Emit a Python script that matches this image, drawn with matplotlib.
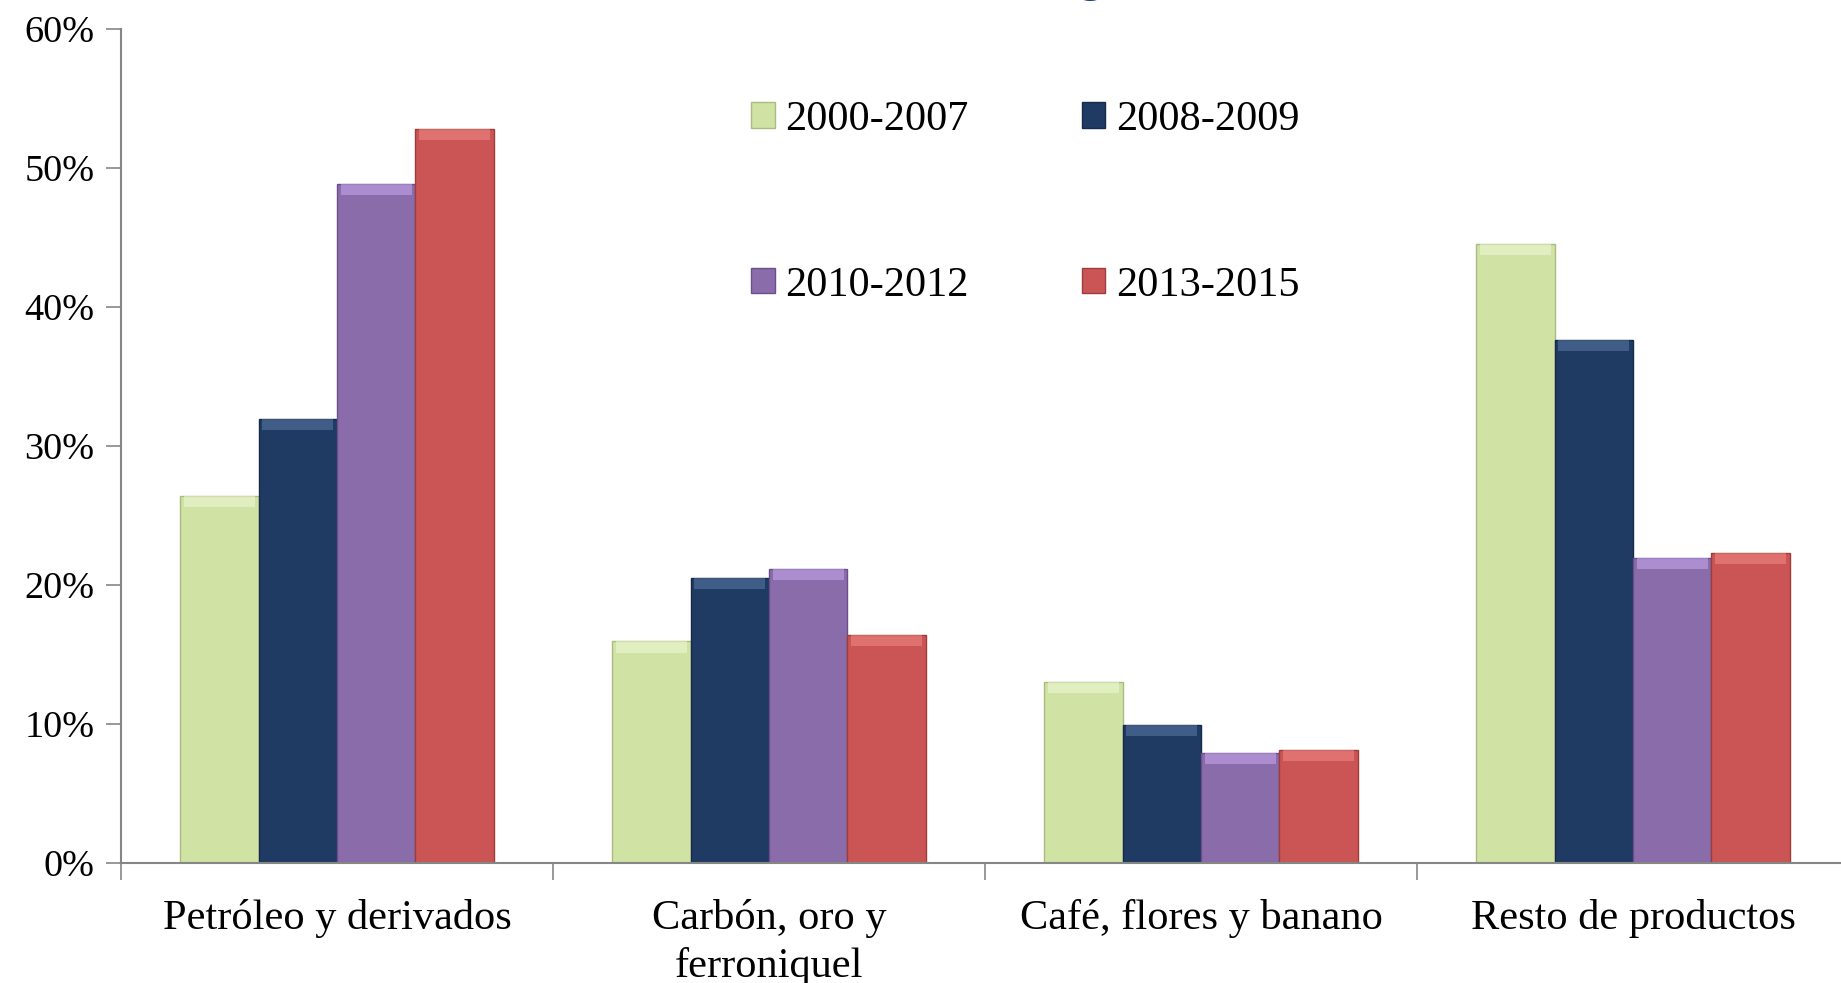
import numpy as np
import matplotlib
matplotlib.use("Agg")
import matplotlib.pyplot as plt
from matplotlib.ticker import FuncFormatter, FixedLocator

categories = ["Petróleo y derivados", "Carbón, oro y\nferroniquel",
              "Café, flores y banano", "Resto de productos"]
periods = ["2000-2007", "2008-2009", "2010-2012", "2013-2015"]

s_2000_2007 = [26.4, 15.9, 13.0, 44.5]
s_2008_2009 = [31.9, 20.5, 9.9, 37.6]
s_2010_2012 = [48.8, 21.1, 7.9, 21.9]
s_2013_2015 = [52.8, 16.4, 8.1, 22.3]
series = [s_2000_2007, s_2008_2009, s_2010_2012, s_2013_2015]

colors = ["#d1e3a4", "#1f3b63", "#8a6caa", "#cb5555"]
tops = ["#f0f8d8", "#5a7aa6", "#c8aaf0", "#f08a86"]
edges = ["#a9bb80", "#15294a", "#6a5088", "#9e3c3c"]

plt.rcParams['font.family'] = ['Liberation Serif', 'DejaVu Serif']

fig = plt.figure(figsize=(18.41, 9.83), dpi=100)
ax = fig.add_axes([121 / 1841, 120.5 / 983, 1728 / 1841, 834 / 983])

w = 0.1817
x = np.arange(len(categories))
bevel = 0.8
handles = []
for j, vals in enumerate(series):
    pos = x + (j - 1.5) * w
    vals = np.array(vals)
    b = ax.bar(pos, vals, width=w, color=colors[j], edgecolor=edges[j],
               linewidth=1.0, label=periods[j], zorder=2)
    handles.append(b)
    # light bevel strip on the top of each bar
    ax.bar(pos, np.full_like(vals, bevel), bottom=vals - bevel, width=w * 0.9,
           color=tops[j], alpha=0.55, linewidth=0, zorder=3)

ax.set_xlim(-0.5, 3.5)
ax.set_ylim(0, 60)
ax.yaxis.set_major_locator(FixedLocator(np.arange(0, 61, 10)))
ax.yaxis.set_major_formatter(FuncFormatter(lambda v, p: f"{v:.0f}%"))

ax.set_xticks(x)
ax.set_xticklabels(categories, fontsize=30.5, linespacing=1.32)
ax.xaxis.set_minor_locator(FixedLocator(np.arange(-0.5, 3.6, 1.0)))
ax.tick_params(axis='x', which='major', length=0, pad=26)
ax.tick_params(axis='x', which='minor', length=12, width=1.2, color="#868686",
               direction='out')
ax.tick_params(axis='y', length=11, width=1.2, color="#868686", labelsize=27.5,
               pad=8, direction='out')

for side in ['top', 'right']:
    ax.spines[side].set_visible(False)
for side in ['left', 'bottom']:
    ax.spines[side].set_color("#868686")
    ax.spines[side].set_linewidth(1.5)

# row-wise order: 2000-2007, 2008-2009 / 2010-2012, 2013-2015
order = [0, 2, 1, 3]
leg = ax.legend([handles[i] for i in order], [periods[i] for i in order],
                ncol=2, loc='upper left', bbox_to_anchor=(0.355, 0.934),
                frameon=False, fontsize=30.5, handlelength=0.55,
                handleheight=0.55, handletextpad=0.25, columnspacing=2.67,
                labelspacing=3.0, borderaxespad=0)

# cut-off title descender at the top
fig.text(1091 / 1841, 0.999, "g", fontsize=40, fontweight='bold',
         color="#1a3a80", ha='center', va='bottom', family='Liberation Sans')

fig.savefig("out.png", dpi=100)
